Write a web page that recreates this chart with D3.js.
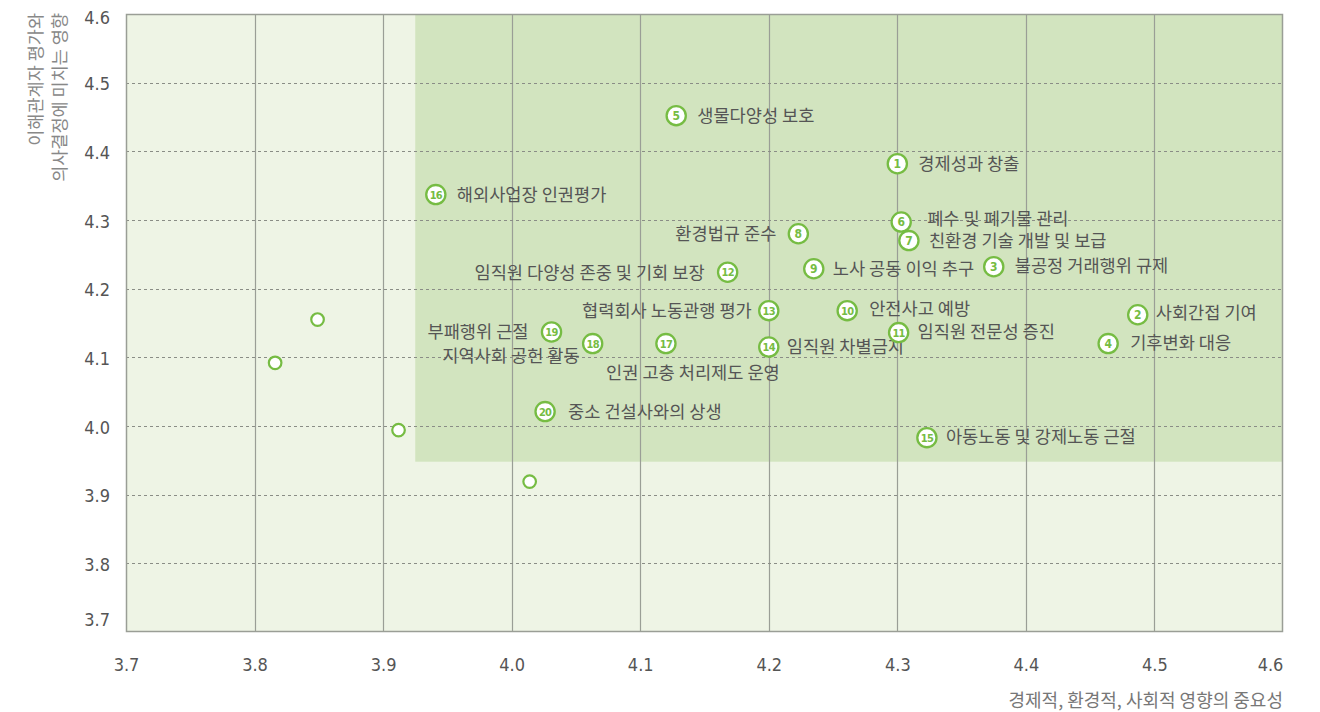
<!DOCTYPE html>
<html>
<head>
<meta charset="utf-8">
<script src="https://cdn.jsdelivr.net/npm/d3@7"></script>
<style>
  html, body { margin: 0; padding: 0; background: #fff; }
  svg { display: block; }
</style>
</head>
<body>
<svg id="chart" width="1320" height="712"></svg>
<script>
// Materiality issues: x = importance of economic/environmental/social impact,
// y = influence on stakeholder assessments and decisions
const issueIds = [1, 2, 3, 4, 5, 6, 7, 8, 9, 10, 11, 12, 13, 14, 15, 16, 17, 18, 19, 20];
const issueNames = [
  "경제성과 창출", "사회간접 기여", "불공정 거래행위 규제", "기후변화 대응", "생물다양성 보호",
  "폐수 및 폐기물 관리", "친환경 기술 개발 및 보급", "환경법규 준수", "노사 공동 이익 추구", "안전사고 예방",
  "임직원 전문성 증진", "임직원 다양성 존중 및 기회 보장", "협력회사 노동관행 평가", "임직원 차별금지", "아동노동 및 강제노동 근절",
  "해외사업장 인권평가", "인권 고충 처리제도 운영", "지역사회 공헌 활동", "부패행위 근절", "중소 건설사와의 상생"
];
const impactX = [4.300, 4.487, 4.375, 4.464, 4.128, 4.303, 4.309, 4.223, 4.235, 4.261,
                 4.301, 4.168, 4.200, 4.200, 4.323, 3.941, 4.120, 4.063, 4.031, 4.026];
const stakeY  = [4.382, 4.162, 4.232, 4.120, 4.452, 4.297, 4.270, 4.280, 4.229, 4.168,
                 4.136, 4.224, 4.168, 4.115, 3.983, 4.337, 4.120, 4.120, 4.137, 4.021];

// Non-material issues (unlabelled)
const minorX = [3.849, 3.816, 3.912, 4.014];
const minorY = [4.155, 4.092, 3.994, 3.919];

// Material zone bounds
const zoneX = [3.925, 4.6];
const zoneY = [3.948, 4.6];

const xTicks = [3.7, 3.8, 3.9, 4.0, 4.1, 4.2, 4.3, 4.4, 4.5, 4.6];
const yTicks = [3.7, 3.8, 3.9, 4.0, 4.1, 4.2, 4.3, 4.4, 4.5, 4.6];
const xTitle = "경제적, 환경적, 사회적 영향의 중요성";
const yTitle = ["이해관계자 평가와", "의사결정에 미치는 영향"];

// Label placement per issue id: [dx, dy, anchor]
const labelPlace = {
  1: [21, 0, "start"], 2: [18, -2, "start"], 3: [21, -1, "start"], 4: [22, -1, "start"],
  5: [21, 0, "start"], 6: [26, -3, "start"], 7: [20, 0, "start"], 8: [-22, 0, "end"],
  9: [19, 0, "start"], 10: [22, -2, "start"], 11: [19, -1, "start"], 12: [-23, 0, "end"],
  13: [-17, 0, "end"], 14: [18, 0, "start"], 15: [19, -1, "start"], 16: [21, 0, "start"],
  17: [27, 29, "middle"], 18: [-13, 12, "end"], 19: [-23, 0, "end"], 20: [23, 0, "start"]
};

const W = 1320, H = 712;
const margin = { top: 14, right: 37, bottom: 80, left: 126 };
const iw = W - margin.left - margin.right;
const ih = H - margin.top - margin.bottom;

const GREEN = "#76bc43";
const svg = d3.select("#chart");
const g = svg.append("g").attr("transform", `translate(${margin.left},${margin.top})`);

const x = d3.scaleLinear().domain([3.7, 4.6]).range([0, iw]);
const y = d3.scaleLinear().domain([3.7, 4.6]).range([ih, 0]);

// backgrounds
g.append("rect").attr("x", 0).attr("y", 0).attr("width", iw).attr("height", ih).attr("fill", "#eef4e5");
g.append("rect")
  .attr("x", x(zoneX[0])).attr("y", y(zoneY[1]))
  .attr("width", x(zoneX[1]) - x(zoneX[0]))
  .attr("height", y(zoneY[0]) - y(zoneY[1]))
  .attr("fill", "#d2e4bf");

// grid
g.append("g").selectAll("line").data(xTicks.slice(1, -1)).join("line")
  .attr("x1", d => Math.round(x(d)) + 0.5).attr("x2", d => Math.round(x(d)) + 0.5)
  .attr("y1", 0).attr("y2", ih)
  .attr("stroke", "#9a9e96").attr("stroke-width", 1.2);
g.append("g").selectAll("line").data(yTicks.slice(1, -1)).join("line")
  .attr("x1", 0).attr("x2", iw)
  .attr("y1", d => Math.round(y(d)) + 0.5).attr("y2", d => Math.round(y(d)) + 0.5)
  .attr("stroke", "#8a8d86").attr("stroke-width", 1).attr("stroke-dasharray", "3,3");

// frame
g.append("rect").attr("x", 0.5).attr("y", 0.5).attr("width", iw - 1).attr("height", ih - 1)
  .attr("fill", "none").attr("stroke", "#9a9e96").attr("stroke-width", 1.5);

// axes
const tickFont = "'Liberation Sans Narrow', 'DejaVu Sans Condensed', sans-serif";
const xAxis = g.append("g").attr("transform", `translate(0,${ih})`)
  .call(d3.axisBottom(x).tickValues(xTicks).tickFormat(d3.format(".1f")).tickSize(0).tickPadding(26));
xAxis.select(".domain").remove();
xAxis.selectAll("text")
  .attr("font-family", tickFont).attr("font-size", 18).attr("fill", "#555")
  .attr("dx", (d, i) => i === xTicks.length - 1 ? -13 : 0);

const yAxis = g.append("g")
  .call(d3.axisLeft(y).tickValues(yTicks).tickFormat(d3.format(".1f")).tickSize(0).tickPadding(16));
yAxis.select(".domain").remove();
yAxis.selectAll("text")
  .attr("font-family", tickFont).attr("font-size", 18).attr("fill", "#555")
  .attr("dy", d => d === 3.7 ? "-0.35em" : (d === 4.6 ? "0.55em" : "0.4em"));

// axis titles
const cjk = "'Noto Sans CJK KR', 'Noto Sans', sans-serif";
svg.append("text")
  .attr("x", margin.left + iw).attr("y", 707)
  .attr("text-anchor", "end").attr("font-family", cjk).attr("font-size", 18)
  .attr("fill", "#777").text(xTitle);

const yt = svg.append("text")
  .attr("transform", `translate(42,13) rotate(-90)`)
  .attr("text-anchor", "end").attr("font-family", cjk).attr("font-size", 17.5).attr("fill", "#888");
yt.selectAll("tspan").data(yTitle).join("tspan")
  .attr("x", 0).attr("dy", (d, i) => i === 0 ? 0 : 24).text(d => d);

// minor points
g.append("g").selectAll("circle").data(minorX.map((v, i) => [v, minorY[i]])).join("circle")
  .attr("cx", d => x(d[0])).attr("cy", d => y(d[1])).attr("r", 6.3)
  .attr("fill", "#fff").attr("stroke", GREEN).attr("stroke-width", 2.2);

// labelled issues
const issues = issueIds.map((id, i) => ({ id, name: issueNames[i], x: impactX[i], y: stakeY[i] }));

const lab = g.append("g");
lab.selectAll("text").data(issues).join("text")
  .attr("x", d => x(d.x) + labelPlace[d.id][0])
  .attr("y", d => y(d.y) + labelPlace[d.id][1])
  .attr("dy", "0.36em")
  .attr("text-anchor", d => labelPlace[d.id][2])
  .attr("font-family", cjk).attr("font-size", 17.6).attr("fill", "#555")
  .text(d => d.name);

const pts = g.append("g").selectAll("g").data(issues).join("g")
  .attr("transform", d => `translate(${x(d.x)},${y(d.y)})`);
pts.append("circle").attr("r", 9.6).attr("fill", "#fff").attr("stroke", GREEN).attr("stroke-width", 2.3);
pts.append("text")
  .attr("text-anchor", "middle").attr("dy", "0.36em")
  .attr("font-family", "'DejaVu Sans Condensed', 'Liberation Sans Narrow', sans-serif")
  .attr("font-weight", "bold")
  .attr("font-size", d => d.id >= 10 ? 11 : 12)
  .attr("letter-spacing", d => d.id >= 10 ? -0.7 : 0)
  .attr("fill", GREEN).text(d => d.id);
</script>
</body>
</html>
